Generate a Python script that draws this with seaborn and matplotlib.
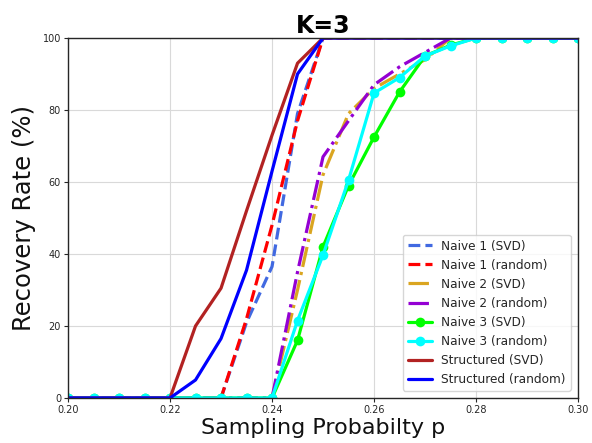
import numpy as np
import pandas as pd
from matplotlib import pyplot as plt
import seaborn as sns

# sampling probabilities on the x axis
p = [0.200, 0.205, 0.210, 0.215, 0.220, 0.225, 0.230, 0.235, 0.240, 0.245, 0.250,
     0.255, 0.260, 0.265, 0.270, 0.275, 0.280, 0.285, 0.290, 0.295, 0.300]

# recovery rate (%) for each method
naive1_svd = [0, 0, 0, 0, 0, 0, 0, 21, 36.5, 79, 100, 100, 100, 100, 100, 100, 100, 100, 100, 100, 100]
naive1_rand = [0, 0, 0, 0, 0, 0, 0, 22, 48, 77, 100, 100, 100, 100, 100, 100, 100, 100, 100, 100, 100]
naive2_svd = [0, 0, 0, 0, 0, 0, 0, 0, 0, 30, 62, 79, 86, 90, 94, 100, 100, 100, 100, 100, 100]
naive2_rand = [0, 0, 0, 0, 0, 0, 0, 0, 0, 35, 67, 77, 87, 92, 96, 100, 100, 100, 100, 100, 100]
naive3_svd = [0, 0, 0, 0, 0, 0, 0, 0, 0, 16, 42, 59, 72.5, 85, 95, 98, 100, 100, 100, 100, 100]
naive3_rand = [0, 0, 0, 0, 0, 0, 0, 0, 0, 21.5, 39.7, 60.5, 84.7, 89, 95, 97.8, 100, 100, 100, 100, 100]
struct_svd = [0, 0, 0, 0, 0, 20, 30.5, 52, 73, 93, 100, 100, 100, 100, 100, 100, 100, 100, 100, 100, 100]
struct_rand = [0, 0, 0, 0, 0, 5, 16.5, 35.5, 63, 90, 100, 100, 100, 100, 100, 100, 100, 100, 100, 100, 100]

labels = ['Naive 1 (SVD)', 'Naive 1 (random)', 'Naive 2 (SVD)', 'Naive 2 (random)',
          'Naive 3 (SVD)', 'Naive 3 (random)', 'Structured (SVD)', 'Structured (random)']
series = [naive1_svd, naive1_rand, naive2_svd, naive2_rand,
          naive3_svd, naive3_rand, struct_svd, struct_rand]
colors = ['royalblue', 'red', 'goldenrod', 'darkviolet', 'lime', 'cyan', 'firebrick', 'blue']
styles = ['--', '--', '-.', '-.', '-', '-', '-', '-']
marks = [None, None, None, None, 'o', 'o', None, None]

sns.set_style("whitegrid", {'axes.edgecolor': '.15', 'xtick.bottom': True, 'ytick.left': True,
                            'grid.color': '.85'})
plt.rcParams['font.family'] = ['DejaVu Sans']

fig = plt.figure(figsize=(5.92, 4.43), dpi=100)
ax = fig.add_axes([0.1149, 0.1016, 0.8615, 0.8126])

for lab, vals, c, ls, m in zip(labels, series, colors, styles, marks):
    df = pd.DataFrame({'p': p, 'rate': vals})
    sns.lineplot(data=df, x='p', y='rate', ax=ax, color=c, linestyle=ls, linewidth=2.3,
                 marker=m, markersize=7, markeredgewidth=0, label=lab)

ax.set_xlim(0.20, 0.30)
ax.set_ylim(0, 100)
ax.set_xticks([0.20, 0.22, 0.24, 0.26, 0.28, 0.30])
ax.set_xticklabels(['0.20', '0.22', '0.24', '0.26', '0.28', '0.30'])
ax.tick_params(labelsize=7, length=3, width=0.8, pad=2)
ax.set_title('K=3', fontsize=17, fontweight='bold', color='black', pad=2)
ax.set_xlabel('Sampling Probabilty p', fontsize=16, color='#111111', labelpad=2)
ax.set_ylabel('Recovery Rate (%)', fontsize=17.5, color='#111111', labelpad=5)
for s in ax.spines.values():
    s.set_linewidth(1.0)
ax.legend(loc='lower right', fontsize=8.7, frameon=True, borderaxespad=0.6)

plt.savefig('out.png', dpi=100)
